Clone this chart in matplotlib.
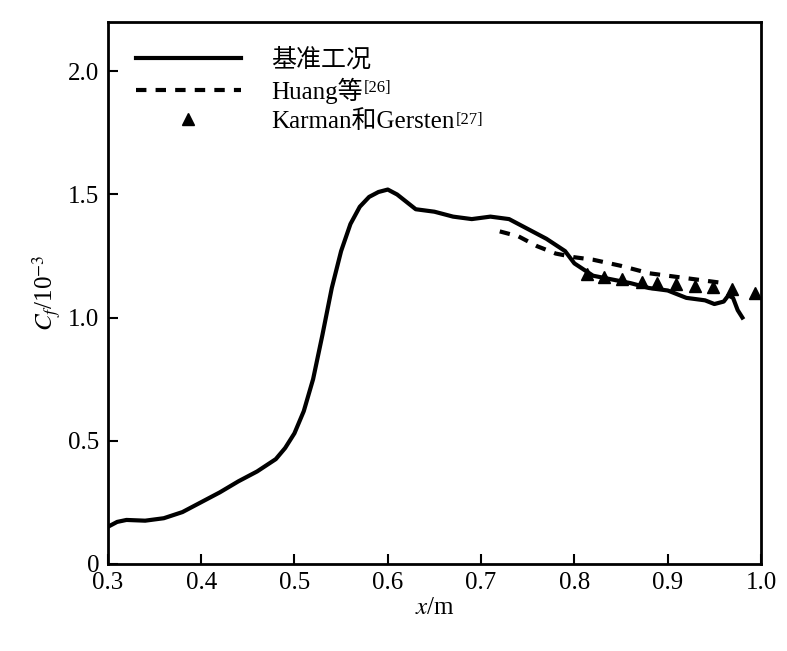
import matplotlib
matplotlib.use("Agg")
import matplotlib.pyplot as plt

plt.rcParams['font.family'] = ['Liberation Serif', 'Noto Sans CJK SC']
plt.rcParams['mathtext.fontset'] = 'stix'

# 基准工况
x_base = [0.30, 0.31, 0.32, 0.34, 0.36, 0.38, 0.40, 0.42, 0.44, 0.46, 0.48, 0.49, 0.50, 0.51,
          0.52, 0.53, 0.54, 0.55, 0.56, 0.57, 0.58, 0.59, 0.60, 0.61, 0.62, 0.63, 0.65,
          0.67, 0.69, 0.71, 0.73, 0.75, 0.77, 0.79, 0.80, 0.82, 0.84, 0.86, 0.88, 0.90,
          0.92, 0.94, 0.95, 0.96, 0.965, 0.97, 0.975, 0.98]
cf_base = [0.15, 0.17, 0.178, 0.175, 0.185, 0.21, 0.25, 0.29, 0.335, 0.375, 0.425, 0.47, 0.53,
           0.62, 0.75, 0.93, 1.12, 1.27, 1.38, 1.45, 1.49, 1.51, 1.52, 1.50, 1.47, 1.44,
           1.43, 1.41, 1.40, 1.41, 1.40, 1.36, 1.32, 1.27, 1.22, 1.17, 1.155, 1.14, 1.12,
           1.11, 1.08, 1.07, 1.055, 1.065, 1.09, 1.08, 1.03, 1.00]

# Huang等
x_huang = [0.72, 0.74, 0.76, 0.78, 0.80, 0.82, 0.85, 0.88, 0.91, 0.94, 0.96]
cf_huang = [1.35, 1.33, 1.29, 1.26, 1.245, 1.235, 1.21, 1.18, 1.165, 1.15, 1.14]

# Karman和Gersten
x_kg = [0.813, 0.832, 0.851, 0.872, 0.889, 0.909, 0.929, 0.948, 0.969, 0.994]
cf_kg = [1.175, 1.163, 1.155, 1.146, 1.142, 1.138, 1.128, 1.124, 1.115, 1.10]

labels = ['基准工况', 'Huang等', 'Karman和Gersten']
refs = ['', '[26]', '[27]']

fig = plt.figure(figsize=(7.87, 6.51), dpi=100)
ax = fig.add_axes([0.137, 0.134, 0.830, 0.832])

ax.plot(x_base, cf_base, 'k-', lw=3, label=labels[0])
ax.plot(x_huang, cf_huang, color='k', ls=(0, (2.5, 2.2)), lw=3, label=labels[1])
ax.plot(x_kg, cf_kg, 'k^', ms=9, ls='none', label=labels[2])

ax.set_xlim(0.3, 1.0)
ax.set_ylim(0, 2.2)
ax.set_xticks([0.3, 0.4, 0.5, 0.6, 0.7, 0.8, 0.9, 1.0])
ax.set_yticks([0, 0.5, 1.0, 1.5, 2.0])
ax.set_yticklabels(['0', '0.5', '1.0', '1.5', '2.0'])
ax.tick_params(direction='in', length=7, width=1.5, labelsize=18, pad=6)
for s in ax.spines.values():
    s.set_linewidth(2)

ax.set_xlabel('$x$/m', fontsize=18, labelpad=2)
ax.set_ylabel('$C_f$/10$^{-3}$', fontsize=18, labelpad=4)

leg = ax.legend(loc='upper left', bbox_to_anchor=(0.02, 0.98), frameon=False, fontsize=18,
                handlelength=4.2, handletextpad=1.2, labelspacing=0.25, borderaxespad=0.2)

# 上标引用编号
fig.canvas.draw()
inv = fig.transFigure.inverted()
for t, r in zip(leg.get_texts(), refs):
    if r:
        bb = t.get_window_extent()
        xf, yf = inv.transform((bb.x1 + 1, bb.y1 - 2))
        fig.text(xf, yf, r, fontsize=12, ha='left', va='top')

fig.savefig('out.png', dpi=100)
